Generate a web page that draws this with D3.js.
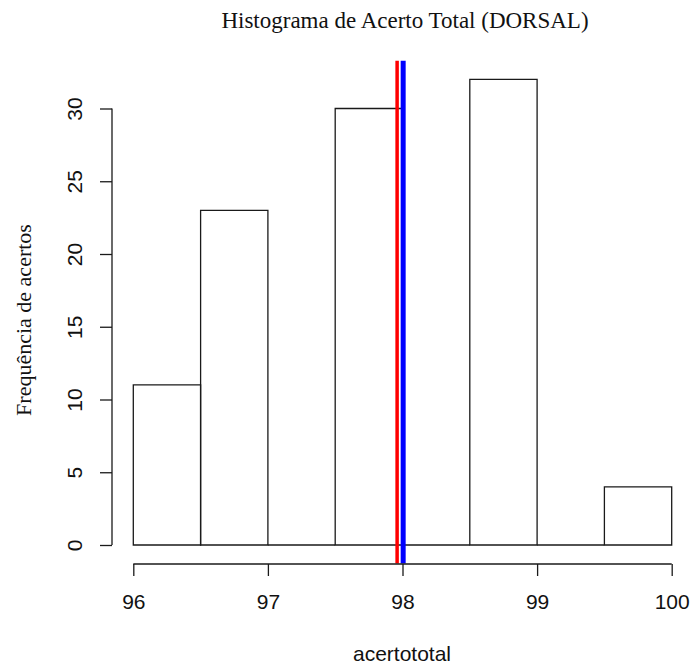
<!DOCTYPE html>
<html>
<head>
    <meta charset="utf-8">
    <title>Histograma de Acerto Total (DORSAL)</title>
    <script type="text/javascript" src="https://cdn.jsdelivr.net/npm/d3@7"></script>
    <style type="text/css">
        body { margin: 0; background: #fff; }
        .bin { fill: none; stroke: #1a1a1a; stroke-width: 1.3; }
        .serif { font-family: "Liberation Serif", "DejaVu Serif", serif; fill: #111; }
        .sans { font-family: "Liberation Sans", Arial, sans-serif; fill: #111; }
    </style>
</head>
<body>
<script type="text/javascript">

    // histogram data
    var binEdges = [96, 96.5, 97, 97.5, 98, 98.5, 99, 99.5, 100];
    var counts = [11, 23, 0, 30, 0, 32, 0, 4];
    var xTicks = [96, 97, 98, 99, 100];
    var yTicks = [0, 5, 10, 15, 20, 25, 30];
    // vertical reference lines (red, blue)
    var refValues = [97.96, 98.005];

    var width = 691, height = 666;

    var x = d3.scaleLinear().domain([96, 100]).range([133.3, 671.7]);
    var y = d3.scaleLinear().domain([0, 32]).range([545, 79.4]);

    var svg = d3.select("body").append("svg")
        .attr("width", width)
        .attr("height", height);

    var bins = counts.map(function(c, i) {
        return { x0: binEdges[i], x1: binEdges[i + 1], count: c };
    });

    // bars as paths so empty bins still draw a line on the baseline
    svg.selectAll(".bin")
        .data(bins)
        .enter().append("path")
        .attr("class", "bin")
        .attr("d", function(d) {
            var p = d3.path();
            p.moveTo(x(d.x0), y(0));
            p.lineTo(x(d.x0), y(d.count));
            p.lineTo(x(d.x1), y(d.count));
            p.lineTo(x(d.x1), y(0));
            p.closePath();
            return p.toString();
        });

    // reference lines span the whole plot region
    var yTop = y(33.28), yBottom = y(-1.28);
    var refColors = ["#ff0000", "#0000ff"];
    var refWidths = [3.5, 5];
    svg.selectAll(".ref")
        .data(refValues)
        .enter().append("line")
        .attr("class", "ref")
        .attr("x1", function(d) { return x(d); })
        .attr("x2", function(d) { return x(d); })
        .attr("y1", yTop)
        .attr("y2", yBottom)
        .attr("stroke", function(d, i) { return refColors[i]; })
        .attr("stroke-width", function(d, i) { return refWidths[i]; });

    // x axis
    var xAxis = svg.append("g")
        .attr("transform", "translate(0,564)")
        .call(d3.axisBottom(x).tickValues(xTicks).tickFormat(d3.format("d"))
            .tickSize(12).tickPadding(18).tickSizeOuter(0));
    xAxis.select(".domain").attr("stroke", "#1a1a1a").attr("stroke-width", 1.3)
        .attr("d", "M" + x(96) + ",0H" + x(100));
    xAxis.selectAll(".tick line").attr("stroke", "#1a1a1a").attr("stroke-width", 1.3);
    xAxis.selectAll(".tick text")
        .attr("class", "sans")
        .style("font-size", "21px")
        .attr("fill", "#111");

    // y axis
    var yAxis = svg.append("g")
        .attr("transform", "translate(112,0)")
        .call(d3.axisLeft(y).tickValues(yTicks).tickFormat(d3.format("d"))
            .tickSize(12).tickSizeOuter(0));
    yAxis.select(".domain").attr("stroke", "#1a1a1a").attr("stroke-width", 1.3)
        .attr("d", "M0," + y(0) + "V" + y(30));
    yAxis.selectAll(".tick line").attr("stroke", "#1a1a1a").attr("stroke-width", 1.3);
    yAxis.selectAll(".tick text")
        .attr("class", "sans")
        .style("font-size", "21px")
        .attr("fill", "#111")
        .attr("x", null)
        .attr("dy", null)
        .attr("text-anchor", "middle")
        .attr("transform", "translate(-30,0)rotate(-90)");

    svg.append("text")
        .attr("class", "serif")
        .attr("text-anchor", "middle")
        .attr("x", 405)
        .attr("y", 28)
        .style("font-size", "23px")
        .text("Histograma de Acerto Total (DORSAL)");

    svg.append("text")
        .attr("class", "sans")
        .attr("text-anchor", "middle")
        .attr("x", 402)
        .attr("y", 661)
        .style("font-size", "21px")
        .text("acertototal");

    svg.append("text")
        .attr("class", "serif")
        .attr("text-anchor", "middle")
        .attr("transform", "translate(31,320)rotate(-90)")
        .style("font-size", "22px")
        .text("Frequência de acertos");

</script>
</body>
</html>
